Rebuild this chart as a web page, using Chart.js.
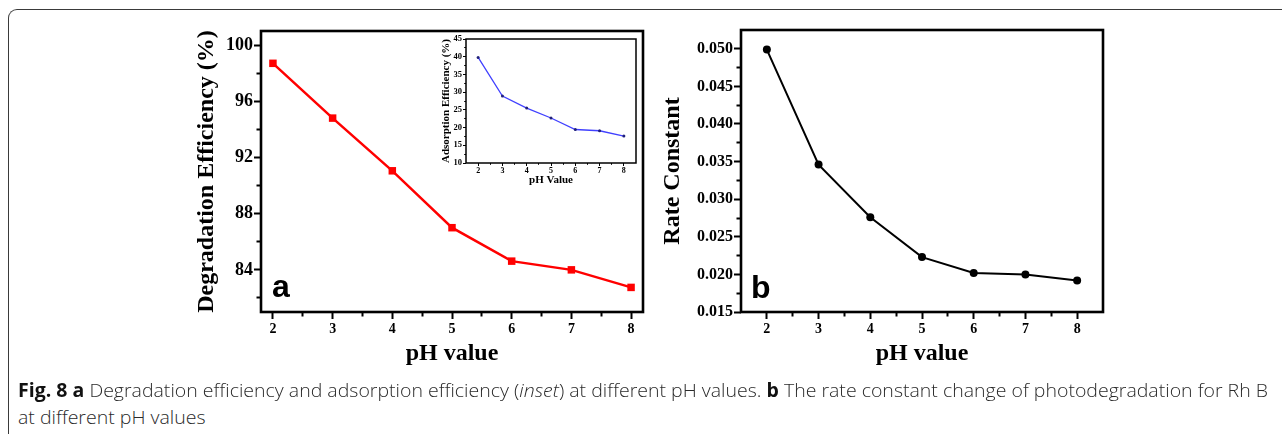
<!DOCTYPE html>
<html><head><meta charset="utf-8">
<script src="https://cdn.jsdelivr.net/npm/chart.js@4/dist/chart.umd.min.js"></script>
<style>
html,body{margin:0;padding:0;background:#fff;width:1282px;height:434px;overflow:hidden;position:relative}
.frame{position:absolute;left:8px;top:9px;width:1400px;height:500px;border-top:1.5px solid #3a3a3a;border-left:1.5px solid #3a3a3a;border-top-left-radius:9px;box-sizing:border-box}
canvas{position:absolute}
.panel{position:absolute;font-family:'Liberation Sans',Arial,sans-serif;font-weight:bold;font-size:32px;line-height:1;color:#000}
.cap{position:absolute;left:18px;font-family:'Open Sans',sans-serif;font-size:19px;font-weight:300;line-height:1;color:#2a2a2a;white-space:nowrap;transform-origin:0 0}
.cap b{color:#111;font-weight:700}
</style></head><body>
<div class="frame"></div>
<canvas id="ca" width="480" height="380" style="left:180px;top:0"></canvas>
<canvas id="ci" width="210" height="165" style="left:436px;top:30px"></canvas>
<canvas id="cb" width="480" height="380" style="left:640px;top:0"></canvas>
<div class="panel" style="left:272px;top:270px">a</div>
<div class="panel" style="left:751px;top:271px">b</div>
<div class="cap" id="cap1" style="top:381px"><b>Fig. 8 a</b> Degradation efficiency and adsorption efficiency (<i>inset</i>) at different pH values. <b>b</b> The rate constant change of photodegradation for Rh B</div>
<div class="cap" id="cap2" style="top:408px">at different pH values</div>
<script>
// ---- data ----
const phValues = [2, 3, 4, 5, 6, 7, 8];
const degradation = [98.7, 94.8, 91.05, 87.0, 84.62, 84.0, 82.75];
const adsorption = [39.8, 28.9, 25.5, 22.7, 19.45, 19.1, 17.6];
const rateConstant = [0.0499, 0.0346, 0.0276, 0.0223, 0.0202, 0.0200, 0.0192];

const xTicks = [2, 3, 4, 5, 6, 7, 8];
const xMinorTicks = [2.5, 3.5, 4.5, 5.5, 6.5, 7.5];
const degTicks = [84, 88, 92, 96, 100];
const degMinorTicks = [82, 86, 90, 94, 98];
const rateTicks = [0.015, 0.020, 0.025, 0.030, 0.035, 0.040, 0.045, 0.050];
const rateMinorTicks = [0.0175, 0.0225, 0.0275, 0.0325, 0.0375, 0.0425, 0.0475];
const adsTicks = [10, 15, 20, 25, 30, 35, 40, 45];
const adsMinorTicks = [12.5, 17.5, 22.5, 27.5, 32.5, 37.5, 42.5];

const SERIF = "'Liberation Serif','Times New Roman',serif";
const fixW = w => s => { s.width = w; };
const fixH = h => s => { s.height = h; };
const setTicks = vals => s => { s.ticks = vals.map(v => ({ value: v })); };

const framePlugin = {
  id: 'frame',
  afterDraw(chart, args, opts) {
    const { ctx, chartArea: a } = chart;
    ctx.save();
    ctx.lineWidth = opts.lw;
    ctx.strokeStyle = '#000';
    ctx.strokeRect(a.left, a.top, a.right - a.left, a.bottom - a.top);
    ctx.restore();
  }
};

function grid(len, w) {
  return { display: true, drawOnChartArea: false, drawTicks: true, tickLength: len, tickWidth: w, tickColor: '#000' };
}

function build(id, p) {
  const pts = p.x.map((x, i) => ({ x: x, y: p.y[i] }));
  return new Chart(document.getElementById(id), {
    type: 'line',
    data: { datasets: [{
      data: pts, borderColor: p.color, backgroundColor: p.pcolor, borderWidth: p.lw,
      pointStyle: p.ps, pointRadius: p.pr, pointHoverRadius: p.pr, pointBorderWidth: 0,
      tension: 0, fill: false, clip: false
    }] },
    options: {
      responsive: false, animation: false, devicePixelRatio: 1, events: [],
      layout: { padding: { top: p.padTop, right: p.padRight, left: 0, bottom: 0 } },
      plugins: { legend: { display: false }, tooltip: { enabled: false }, frame: { lw: p.frameW } },
      scales: {
        x: {
          type: 'linear', position: 'bottom', weight: 1, min: p.xMin, max: p.xMax,
          afterBuildTicks: setTicks(p.xTicks), afterFit: fixH(p.xH),
          grid: grid(p.majL, p.tickW), border: { display: false },
          ticks: { color: '#000', font: { family: SERIF, weight: 'bold', size: p.xFont }, padding: p.xPad,
                   maxRotation: 0, autoSkip: false, callback: v => String(v) },
          title: { display: true, text: p.xTitle, color: '#000',
                   font: { family: SERIF, weight: 'bold', size: p.xTitleSize }, padding: { top: 0, bottom: p.xTitlePad } }
        },
        xm: {
          type: 'linear', position: 'bottom', weight: 0, min: p.xMin, max: p.xMax,
          afterBuildTicks: setTicks(p.xMinor), afterFit: fixH(0),
          grid: grid(p.minL, p.tickW), border: { display: false }, ticks: { display: false }
        },
        y: {
          type: 'linear', position: 'left', weight: 1, min: p.yMin, max: p.yMax,
          afterBuildTicks: setTicks(p.yTicks), afterFit: fixW(p.yW),
          grid: grid(p.majL, p.tickW), border: { display: false },
          ticks: { color: '#000', font: { family: SERIF, weight: 'bold', size: p.yFont }, padding: p.yPad,
                   autoSkip: false, callback: p.yFmt },
          title: { display: true, text: p.yTitle, color: '#000',
                   font: { family: SERIF, weight: 'bold', size: p.yTitleSize }, padding: { top: p.yTitlePad, bottom: 0 } }
        },
        ym: {
          type: 'linear', position: 'left', weight: 0, min: p.yMin, max: p.yMax,
          afterBuildTicks: setTicks(p.yMinor), afterFit: fixW(0),
          grid: grid(p.minL, p.tickW), border: { display: false }, ticks: { display: false }
        }
      }
    },
    plugins: [framePlugin]
  });
}

build('ca', {
  x: phValues, y: degradation, color: '#ff0000', pcolor: '#ff0000', lw: 2.5, ps: 'rect', pr: 5.3,
  padTop: 31, padRight: 17, yW: 81, xH: 68, frameW: 2.6,
  xMin: 1.8, xMax: 8.2, yMin: 81, yMax: 101,
  xTicks: xTicks, xMinor: xMinorTicks, yTicks: degTicks, yMinor: degMinorTicks,
  majL: 7, minL: 4.5, tickW: 2,
  xFont: 14, xPad: 2, yFont: 18, yPad: 1, yFmt: v => String(v),
  xTitle: 'pH value', xTitleSize: 24, xTitlePad: 12,
  yTitle: 'Degradation Efficiency (%)', yTitleSize: 24, yTitlePad: 12.6
});

build('ci', {
  x: phValues, y: adsorption, color: '#4040ff', pcolor: '#20207a', lw: 1.3, ps: 'circle', pr: 1.5,
  padTop: 9, padRight: 10, yW: 30, xH: 32, frameW: 1.5,
  xMin: 1.5, xMax: 8.5, yMin: 10, yMax: 45,
  xTicks: xTicks, xMinor: xMinorTicks, yTicks: adsTicks, yMinor: adsMinorTicks,
  majL: 3, minL: 1.8, tickW: 1,
  xFont: 8, xPad: 0, yFont: 8.5, yPad: 1, yFmt: v => String(v),
  xTitle: 'pH Value', xTitleSize: 11, xTitlePad: 7.9,
  yTitle: 'Adsorption Efficiency (%)', yTitleSize: 11, yTitlePad: 3.4
});

build('cb', {
  x: phValues, y: rateConstant, color: '#000', pcolor: '#000', lw: 2, ps: 'circle', pr: 4,
  padTop: 30, padRight: 17, yW: 101, xH: 68, frameW: 2.6,
  xMin: 1.5, xMax: 8.5, yMin: 0.015, yMax: 0.0525,
  xTicks: xTicks, xMinor: xMinorTicks, yTicks: rateTicks, yMinor: rateMinorTicks,
  majL: 7, minL: 4.5, tickW: 2,
  xFont: 14, xPad: 2, yFont: 16, yPad: 1, yFmt: v => v.toFixed(3),
  xTitle: 'pH value', xTitleSize: 24, xTitlePad: 12,
  yTitle: 'Rate Constant', yTitleSize: 24, yTitlePad: 18.6
});

// fit caption line 1 to the reference width by horizontal scaling
(function () {
  const c1 = document.getElementById('cap1'), c2 = document.getElementById('cap2');
  const w = c1.getBoundingClientRect().width;
  const k = 1250 / w;
  c1.style.transform = 'scaleX(' + k + ')';
  c2.style.transform = 'scaleX(' + k + ')';
})();
</script>
</body></html>
